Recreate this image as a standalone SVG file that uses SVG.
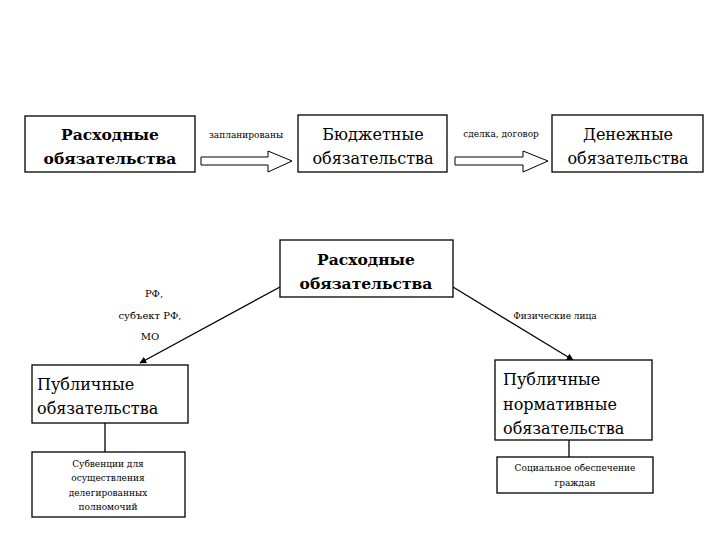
<svg xmlns="http://www.w3.org/2000/svg" width="720" height="540" viewBox="0 0 720 540">
<defs>
<style>
.box{fill:#fff;stroke:#000;stroke-width:1.3}
.t{fill:#000;font-family:"DejaVu Serif",serif}
.big{font-size:16px}
.b{font-weight:bold;font-size:15.5px}
.sm{font-size:9px}
.lab{font-size:10px}
.ln{stroke:#000;stroke-width:1.3;fill:none}
.barrow{fill:#fff;stroke:#000;stroke-width:1}
</style>
<marker id="ah" viewBox="0 0 10 10" refX="9" refY="5" markerWidth="7" markerHeight="7" orient="auto" markerUnits="userSpaceOnUse">
<path d="M0,0 L10,5 L0,10 z" fill="#000"/>
</marker>
</defs>
<rect width="720" height="540" fill="#fff"/>
<g id="connectors">
<path class="barrow" d="M201,157 H268 V151 L292,161 L268,172 V165 H201 Z"/>
<path class="barrow" d="M455,157 H523 V151 L548,161 L523,172 V165 H455 Z"/>
<line class="ln" x1="280" y1="287" x2="140" y2="363" marker-end="url(#ah)"/>
<line class="ln" x1="453" y1="287" x2="573" y2="360" marker-end="url(#ah)"/>
<line class="ln" x1="105" y1="423" x2="105" y2="452"/>
<line class="ln" x1="569" y1="440" x2="569" y2="457"/>
<text class="t sm" x="246" y="138" text-anchor="middle">запланированы</text>
<text class="t sm" x="501" y="137" text-anchor="middle">сделка, договор</text>
<text class="t lab" x="154" y="297" text-anchor="middle">РФ,</text>
<text class="t lab" x="150" y="319" text-anchor="middle">субъект РФ,</text>
<text class="t lab" x="150" y="340" text-anchor="middle">МО</text>
<text class="t sm" x="555" y="319" text-anchor="middle">Физические лица</text>
</g>
<g id="n1">
<rect class="box" x="25" y="116" width="170" height="56"/>
<text class="t big b" x="110" y="140" text-anchor="middle">Расходные</text>
<text class="t big b" x="110" y="164" text-anchor="middle">обязательства</text>
</g>
<g id="n2">
<rect class="box" x="298" y="115" width="149" height="57"/>
<text class="t big" x="373" y="140" text-anchor="middle">Бюджетные</text>
<text class="t big" x="373" y="164" text-anchor="middle">обязательства</text>
</g>
<g id="n3">
<rect class="box" x="552" y="115" width="151" height="57"/>
<text class="t big" x="628" y="140" text-anchor="middle">Денежные</text>
<text class="t big" x="628" y="164" text-anchor="middle">обязательства</text>
</g>
<g id="n4">
<rect class="box" x="280" y="240" width="173" height="57"/>
<text class="t big b" x="366" y="265" text-anchor="middle">Расходные</text>
<text class="t big b" x="366" y="289" text-anchor="middle">обязательства</text>
</g>
<g id="n5">
<rect class="box" x="32" y="365" width="156" height="58"/>
<text class="t big" x="37" y="390">Публичные</text>
<text class="t big" x="37" y="414">обязательства</text>
</g>
<g id="n6">
<rect class="box" x="32" y="452" width="153" height="65"/>
<text class="t sm" x="108" y="467" text-anchor="middle">Субвенции для</text>
<text class="t sm" x="108" y="481" text-anchor="middle">осуществления</text>
<text class="t sm" x="108" y="496" text-anchor="middle">делегированных</text>
<text class="t sm" x="108" y="510" text-anchor="middle">полномочий</text>
</g>
<g id="n7">
<rect class="box" x="495" y="360" width="157" height="80"/>
<text class="t big" x="503" y="385">Публичные</text>
<text class="t big" x="503" y="410">нормативные</text>
<text class="t big" x="503" y="434">обязательства</text>
</g>
<g id="n8">
<rect class="box" x="497" y="457" width="156" height="36"/>
<text class="t sm" x="575" y="471" text-anchor="middle">Социальное обеспечение</text>
<text class="t sm" x="575" y="486" text-anchor="middle">граждан</text>
</g>
</svg>
